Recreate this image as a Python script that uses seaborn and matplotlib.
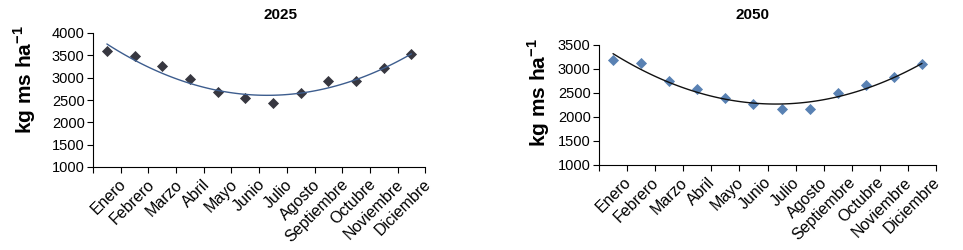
import matplotlib
matplotlib.use("Agg")
import matplotlib.pyplot as plt
import matplotlib.transforms as mtransforms
import numpy as np
import pandas as pd
import seaborn as sns

# data
meses = ["Enero", "Febrero", "Marzo", "Abril", "Mayo", "Junio", "Julio",
         "Agosto", "Septiembre", "Octubre", "Noviembre", "Diciembre"]
y2025 = [3590, 3480, 3270, 2960, 2670, 2540, 2430, 2650, 2920, 2930, 3220, 3530]
y2050 = [3180, 3120, 2750, 2580, 2400, 2280, 2170, 2170, 2490, 2670, 2830, 3100]

sns.set_style("ticks")
plt.rcParams['font.family'] = ['Liberation Sans', 'DejaVu Sans']
plt.rcParams['mathtext.fontset'] = 'custom'
plt.rcParams['mathtext.rm'] = 'Liberation Sans'
plt.rcParams['mathtext.bf'] = 'Liberation Sans:bold'
for k in ['text.color', 'axes.labelcolor', 'xtick.color', 'ytick.color', 'axes.edgecolor']:
    plt.rcParams[k] = 'black'

fig = plt.figure(figsize=(9.63, 2.5), dpi=100)
ax1 = fig.add_axes([0.0966, 0.332, 0.345, 0.536])
ax2 = fig.add_axes([0.622, 0.34, 0.350, 0.48])

paneles = [
    (ax1, y2025, "#050510", "#3d5d8e", [1000, 4000], "2025", 0.291, (-0.165, 0.65), 12),
    (ax2, y2050, "#2f62a0", "#111111", [1000, 3500], "2050", 0.781, (-0.14, 0.60), 10),
]

for ax, vals, mcol, lcol, ylim, titulo, tx, lpos, dx in paneles:
    df = pd.DataFrame({"x": np.arange(len(meses)), "y": vals})
    sns.regplot(data=df, x="x", y="y", ax=ax, order=2, ci=None, truncate=True,
                marker="D", scatter_kws={"s": 32, "color": mcol, "linewidths": 0},
                line_kws={"color": lcol, "lw": 1.0})
    ax.set_xlim(-0.5, len(meses) - 0.5)
    ax.set_ylim(*ylim)
    ax.set_yticks(np.arange(ylim[0], ylim[1] + 1, 500))
    ax.set_xticks(np.arange(-0.5, len(meses), 1.0))
    ax.set_xticklabels([])
    ax.set_xticks(np.arange(len(meses)), minor=True)
    ax.set_xticklabels(meses, minor=True, rotation=45, ha="right",
                       rotation_mode="anchor", fontsize=11.5)
    ax.tick_params(axis="x", which="minor", length=0, pad=7)
    ax.tick_params(axis="x", which="major", length=4, width=0.8, direction="out")
    ax.tick_params(axis="y", length=4, width=0.8, labelsize=10.5, pad=2)
    off = mtransforms.ScaledTranslation(dx / 100, 0, fig.dpi_scale_trans)
    for lab in ax.get_xticklabels(minor=True):
        lab.set_transform(lab.get_transform() + off)
    ax.set_xlabel("")
    ax.set_ylabel(r"kg ms ha$^{\mathbf{-1}}$", fontsize=15, fontweight="bold")
    ax.yaxis.set_label_coords(*lpos)
    sns.despine(ax=ax)
    for s in ax.spines.values():
        s.set_linewidth(0.8)
    fig.text(tx, 0.94, titulo, ha="center", va="center", fontsize=11, fontweight="bold")

fig.savefig("out.png", dpi=100)
plt.close()
